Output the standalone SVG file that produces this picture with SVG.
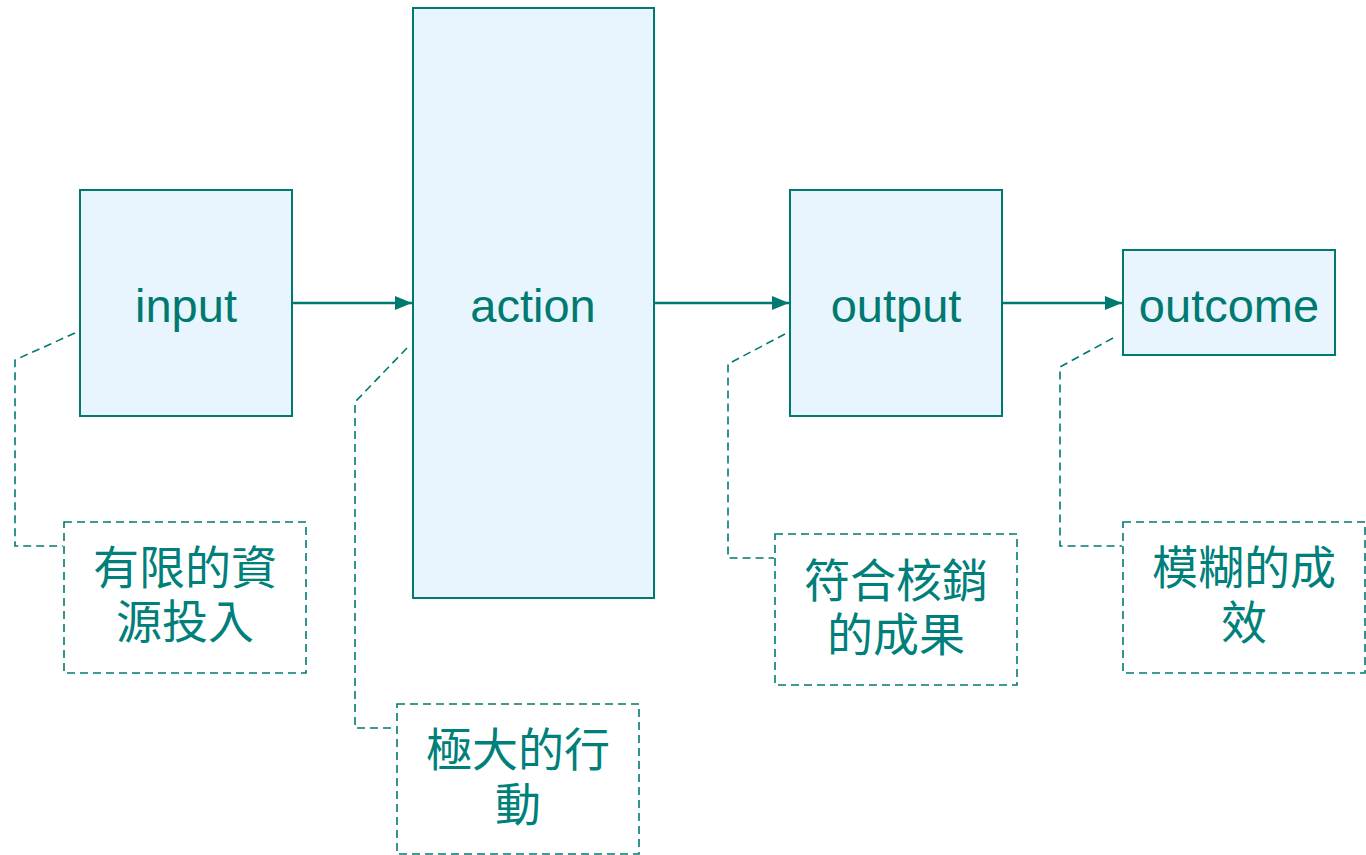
<svg xmlns="http://www.w3.org/2000/svg" width="1366" height="855" viewBox="0 0 1366 855">
<style>
.box{fill:#E8F5FE;stroke:#007A70;stroke-width:2}
.lbl{font-family:"Liberation Sans",Arial,sans-serif;font-size:47px;fill:#007A70;text-anchor:middle}
.note{fill:none;stroke:#007A70;stroke-width:1.6;stroke-dasharray:8 5}
.ntxt{font-family:"Noto Sans CJK TC","Noto Sans CJK SC",sans-serif;font-size:46px;fill:#00807A;text-anchor:middle}
.conn{fill:none;stroke:#007A70;stroke-width:2.5}
.lead{fill:none;stroke:#007A70;stroke-width:1.6;stroke-dasharray:8 5}
</style>
<defs>
<marker id="arr" markerWidth="18" markerHeight="16" refX="17" refY="7" orient="auto" markerUnits="userSpaceOnUse">
<path d="M0,0 L17,7 L0,14 Z" fill="#007A70"/>
</marker>
</defs>
<rect width="1366" height="855" fill="#FFFFFF"/>
<g id="connectors">
<line class="conn" x1="292" y1="303" x2="412" y2="303" marker-end="url(#arr)"/>
<line class="conn" x1="654" y1="303" x2="789" y2="303" marker-end="url(#arr)"/>
<line class="conn" x1="1002" y1="303" x2="1122" y2="303" marker-end="url(#arr)"/>
<polyline class="lead" points="75,333 15,360 15,546 63,546"/>
<polyline class="lead" points="407,348 355,402 355,728 396,728"/>
<polyline class="lead" points="785,334 728,364 728,558 774,558"/>
<polyline class="lead" points="1113,338 1060,367 1060,546 1122,546"/>
</g>
<g id="input">
<rect class="box" x="80" y="190" width="212" height="226"/>
<text class="lbl" x="186" y="322">input</text>
</g>
<g id="action">
<rect class="box" x="413" y="8" width="241" height="590"/>
<text class="lbl" x="533" y="322">action</text>
</g>
<g id="output">
<rect class="box" x="790" y="190" width="212" height="226"/>
<text class="lbl" x="896" y="322">output</text>
</g>
<g id="outcome">
<rect class="box" x="1123" y="250" width="212" height="105"/>
<text class="lbl" x="1229" y="322">outcome</text>
</g>
<g id="note-input">
<rect class="note" x="64" y="522" width="242" height="151"/>
<text class="ntxt" x="185" y="584">有限的資<tspan x="185" dy="54">源投入</tspan></text>
</g>
<g id="note-action">
<rect class="note" x="397" y="704" width="242" height="150"/>
<text class="ntxt" x="518" y="766">極大的行<tspan x="518" dy="55">動</tspan></text>
</g>
<g id="note-output">
<rect class="note" x="775" y="534" width="242" height="151"/>
<text class="ntxt" x="896" y="597">符合核銷<tspan x="896" dy="54">的成果</tspan></text>
</g>
<g id="note-outcome">
<rect class="note" x="1123" y="522" width="242" height="151"/>
<text class="ntxt" x="1244" y="584">模糊的成<tspan x="1244" dy="55">效</tspan></text>
</g>
</svg>
